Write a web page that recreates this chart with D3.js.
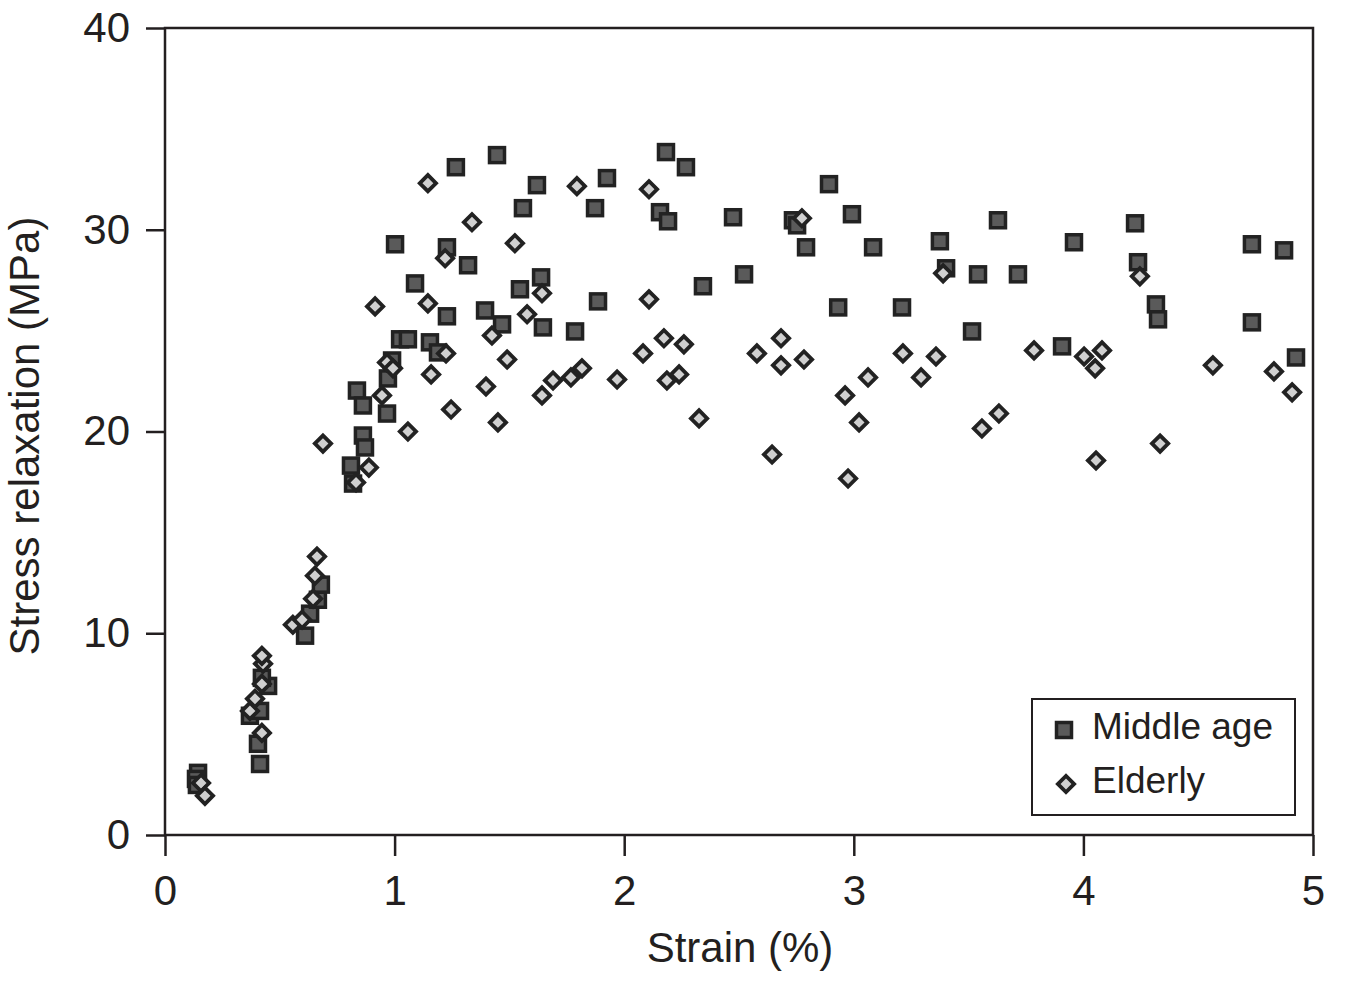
<!DOCTYPE html>
<html>
<head>
<meta charset="utf-8">
<script src="https://cdn.jsdelivr.net/npm/d3@7"></script>
<style>
  body { margin: 0; background: #fff; }
  svg text { font-family: "Liberation Sans", Arial, sans-serif; fill: #231f20; }
</style>
</head>
<body>
<svg id="chart" width="1345" height="982"></svg>
<script>
    // Middle age (squares): strain %, stress MPa
    var middleStrain = [0.144, 0.135, 0.139, 0.370, 0.405, 0.414, 0.414, 0.449, 0.422, 0.610,
        0.632, 0.666, 0.679, 0.810, 0.819, 0.836, 0.862, 0.862, 0.871, 0.967,
        0.971, 0.989, 1.002, 1.024, 1.058, 1.089, 1.154, 1.189, 1.228, 1.228,
        1.267, 1.320, 1.394, 1.446, 1.468, 1.546, 1.559, 1.620, 1.638, 1.646,
        1.786, 1.873, 1.886, 1.925, 2.182, 2.269, 2.156, 2.191, 2.343, 2.474,
        2.522, 2.735, 2.753, 2.792, 2.892, 2.932, 2.992, 3.084, 3.210, 3.375,
        3.402, 3.515, 3.541, 3.628, 3.715, 3.907, 3.959, 4.225, 4.238, 4.316,
        4.325, 4.734, 4.874, 4.734, 4.926];
    var middleStress = [3.08, 2.78, 2.48, 5.91, 4.52, 3.52, 6.15, 7.39, 7.79, 9.88,
        10.97, 11.66, 12.41, 18.31, 17.42, 22.03, 21.29, 19.80, 19.21, 20.89,
        22.63, 23.52, 29.28, 24.57, 24.57, 27.34, 24.42, 23.92, 29.13, 25.71,
        33.10, 28.24, 26.00, 33.70, 25.31, 27.05, 31.07, 32.21, 27.64, 25.16,
        24.96, 31.07, 26.45, 32.56, 33.85, 33.10, 30.87, 30.42, 27.20, 30.62,
        27.79, 30.47, 30.22, 29.13, 32.26, 26.15, 30.77, 29.13, 26.15, 29.43,
        28.09, 24.96, 27.79, 30.47, 27.79, 24.22, 29.38, 30.32, 28.39, 26.30,
        25.56, 29.28, 28.98, 25.41, 23.67];

    // Elderly (diamonds)
    var elderlyStrain = [0.157, 0.174, 0.370, 0.392, 0.422, 0.422, 0.427, 0.422, 0.557, 0.597,
        0.645, 0.653, 0.662, 0.688, 0.832, 0.888, 0.915, 0.945, 0.967, 0.993,
        1.058, 1.145, 1.145, 1.159, 1.220, 1.224, 1.246, 1.337, 1.398, 1.424,
        1.450, 1.490, 1.524, 1.577, 1.642, 1.642, 1.690, 1.768, 1.794, 1.816,
        1.969, 2.082, 2.108, 2.108, 2.173, 2.186, 2.239, 2.260, 2.326, 2.578,
        2.683, 2.683, 2.644, 2.774, 2.783, 2.962, 2.975, 3.023, 3.062, 3.214,
        3.293, 3.358, 3.389, 3.558, 3.632, 3.785, 4.003, 4.051, 4.081, 4.055,
        4.246, 4.334, 4.564, 4.830, 4.909];
    var elderlyStress = [2.58, 1.94, 6.15, 6.75, 5.06, 7.49, 8.49, 8.88, 10.42, 10.67,
        11.71, 12.85, 13.80, 19.40, 17.47, 18.21, 26.20, 21.79, 23.42, 23.13,
        20.00, 32.31, 26.35, 22.83, 28.59, 23.87, 21.09, 30.37, 22.23, 24.76,
        20.45, 23.57, 29.33, 25.81, 26.85, 21.79, 22.53, 22.68, 32.16, 23.13,
        22.58, 23.87, 32.01, 26.55, 24.62, 22.53, 22.83, 24.32, 20.65, 23.87,
        24.62, 23.28, 18.86, 30.57, 23.57, 21.79, 17.67, 20.45, 22.68, 23.87,
        22.68, 23.72, 27.84, 20.15, 20.89, 24.02, 23.72, 23.13, 24.02, 18.56,
        27.69, 19.40, 23.28, 22.98, 21.94];

    var xTicks = [0, 1, 2, 3, 4, 5];
    var yTicks = [0, 10, 20, 30, 40];
    var seriesNames = ["Middle age", "Elderly"];

    var plotL = 165, plotR = 1313, plotT = 28, plotB = 835;
    var ink = "#231f20";

    var svg = d3.select("#chart");
    var x = d3.scaleLinear().domain([0, 5]).range([plotL, plotR]);
    var y = d3.scaleLinear().domain([0, 40]).range([plotB, plotT]);

    // frame
    svg.append("rect")
        .attr("x", plotL).attr("y", plotT)
        .attr("width", plotR - plotL).attr("height", plotB - plotT)
        .attr("fill", "none").attr("stroke", ink).attr("stroke-width", 2.5);

    var xAxis = svg.append("g")
        .attr("transform", "translate(0," + plotB + ")")
        .call(d3.axisBottom(x).tickValues(xTicks).tickFormat(d3.format("d")).tickSize(21).tickPadding(19));
    var yAxis = svg.append("g")
        .attr("transform", "translate(" + plotL + ",0)")
        .call(d3.axisLeft(y).tickValues(yTicks).tickFormat(d3.format("d")).tickSize(19).tickPadding(16));

    [xAxis, yAxis].forEach(function (ax) {
        ax.select(".domain").remove();
        ax.selectAll(".tick line").attr("stroke", ink).attr("stroke-width", 2.5);
        ax.selectAll(".tick text")
            .attr("font-family", "Liberation Sans, Arial, sans-serif")
            .attr("font-size", 42).attr("fill", ink);
    });

    // axis titles
    svg.append("text")
        .attr("x", 740).attr("y", 962)
        .attr("text-anchor", "middle").attr("font-size", 42)
        .text("Strain (%)");
    svg.append("text")
        .attr("transform", "translate(39,436) rotate(-90)")
        .attr("text-anchor", "middle").attr("font-size", 42)
        .text("Stress relaxation (MPa)");

    var middle = middleStrain.map(function (d, i) { return [d, middleStress[i]]; });
    var elderly = elderlyStrain.map(function (d, i) { return [d, elderlyStress[i]]; });

    var sq = 15, dm = 11.5;
    function drawSquare(g, cx, cy) {
        g.append("rect")
            .attr("x", cx - sq / 2).attr("y", cy - sq / 2)
            .attr("width", sq).attr("height", sq)
            .attr("fill", "#5a5a5a").attr("stroke", "#222").attr("stroke-width", 3.5);
    }
    function drawDiamond(g, cx, cy) {
        g.append("rect")
            .attr("x", -dm / 2).attr("y", -dm / 2)
            .attr("width", dm).attr("height", dm)
            .attr("transform", "translate(" + cx + "," + cy + ") rotate(45)")
            .attr("fill", "#d0d0d0").attr("stroke", "#222").attr("stroke-width", 3.8);
    }

    var gm = svg.append("g");
    middle.forEach(function (d) { drawSquare(gm, x(d[0]), y(d[1])); });
    var ge = svg.append("g");
    elderly.forEach(function (d) { drawDiamond(ge, x(d[0]), y(d[1])); });

    // legend
    var lg = svg.append("g");
    lg.append("rect")
        .attr("x", 1032).attr("y", 699).attr("width", 263).attr("height", 116)
        .attr("fill", "#fff").attr("stroke", ink).attr("stroke-width", 2);
    drawSquare(lg, 1064, 730);
    drawDiamond(lg, 1066, 784);
    lg.append("text").attr("x", 1092).attr("y", 739).attr("font-size", 37).text(seriesNames[0]);
    lg.append("text").attr("x", 1092).attr("y", 793).attr("font-size", 37).text(seriesNames[1]);
</script>
</body>
</html>
